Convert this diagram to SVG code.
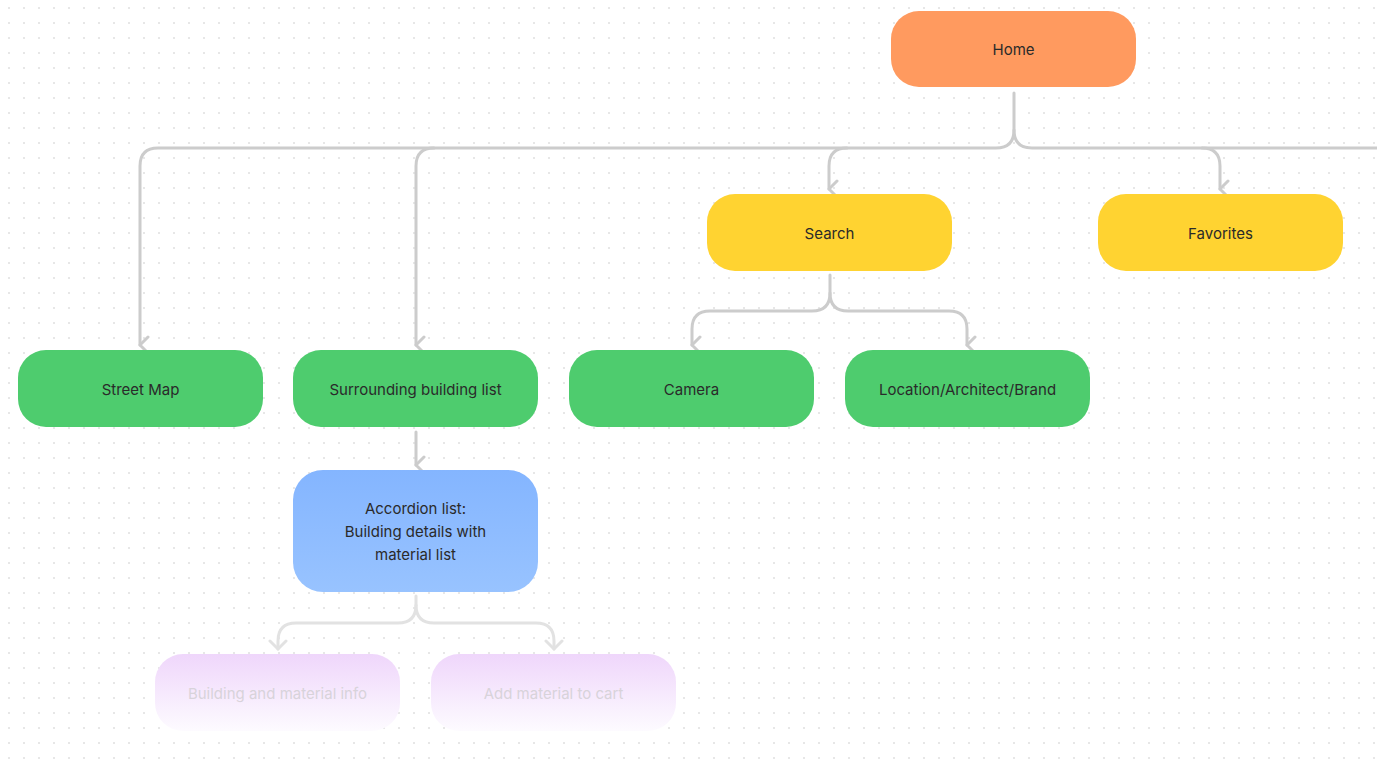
<svg xmlns="http://www.w3.org/2000/svg" width="1377" height="760" viewBox="0 0 1377 760">
<defs>
<pattern id="dots" width="15" height="15" patternUnits="userSpaceOnUse" x="8" y="7"><circle cx="1" cy="1" r="0.9" fill="#dcdcdc"/></pattern>
<linearGradient id="blue" x1="0" y1="0" x2="0" y2="1"><stop offset="0" stop-color="#84b5ff"/><stop offset="1" stop-color="#98c3ff"/></linearGradient>
<linearGradient id="purple" x1="0" y1="0" x2="0" y2="1"><stop offset="0" stop-color="#efd6fb"/><stop offset="1" stop-color="#fdfbff"/></linearGradient>
<marker id="ah" viewBox="0 0 20 20" refX="10" refY="16" markerWidth="20" markerHeight="20" markerUnits="userSpaceOnUse" orient="auto-start-reverse">
<path d="M2 8 L10 16 L18 8" fill="none" stroke="#cccccc" stroke-width="3" stroke-linecap="round" stroke-linejoin="round" transform="rotate(-90 10 10) rotate(90 10 10)"/>
</marker>
<marker id="ahf" viewBox="0 0 20 20" refX="10" refY="16" markerWidth="20" markerHeight="20" markerUnits="userSpaceOnUse">
<path d="M2 8 L10 16 L18 8" fill="none" stroke="#e2e2e2" stroke-width="3" stroke-linecap="round" stroke-linejoin="round"/>
</marker>
</defs>
<style>
text{font-family:Inter,"Liberation Sans",sans-serif;font-size:15px;fill:#2a2a2a;text-anchor:middle;dominant-baseline:central}
.c{fill:none;stroke:#cccccc;stroke-width:3;stroke-linecap:round}
.cf{fill:none;stroke:#e2e2e2;stroke-width:3;stroke-linecap:round}
.faded{fill:#d8d3da}
</style>
<rect width="1377" height="760" fill="#ffffff"/>
<rect width="1377" height="760" fill="url(#dots)"/>
<g id="connectors">
<path class="c" d="M1014 93 V130 Q1014 148 996 148 H158 Q140 148 140 166 V345" marker-end="url(#ah)"/>
<path class="c" d="M434 148 Q416 148 416 166 V345" marker-end="url(#ah)"/>
<path class="c" d="M1014 130 Q1014 148 1032 148 H1380"/>
<path class="c" d="M847 148 Q829 148 829 166 V189" marker-end="url(#ah)"/>
<path class="c" d="M1202 148 Q1220 148 1220 166 V189" marker-end="url(#ah)"/>
<path class="c" d="M830 275 V293 Q830 311 812 311 H710 Q692 311 692 329 V345" marker-end="url(#ah)"/>
<path class="c" d="M830 293 Q830 311 848 311 H949 Q967 311 967 329 V345" marker-end="url(#ah)"/>
<path class="c" d="M416 432 V465" marker-end="url(#ah)"/>
<path class="cf" d="M416 596 V605 Q416 623 398 623 H296 Q278 623 278 641 V649" marker-end="url(#ahf)"/>
<path class="cf" d="M416 605 Q416 623 434 623 H536 Q554 623 554 641 V649" marker-end="url(#ahf)"/>
</g>
<g id="home"><rect x="891" y="11" width="245" height="76" rx="28" fill="#ff9a5f"/><text x="1013.5" y="49">Home</text></g>
<g id="search"><rect x="707" y="194" width="245" height="77" rx="28" fill="#ffd331"/><text x="829.5" y="233">Search</text></g>
<g id="favorites"><rect x="1098" y="194" width="245" height="77" rx="28" fill="#ffd331"/><text x="1220.5" y="233">Favorites</text></g>
<g id="street-map"><rect x="18" y="350" width="245" height="77" rx="28" fill="#4ecc6e"/><text x="140.5" y="389">Street Map</text></g>
<g id="surrounding"><rect x="293" y="350" width="245" height="77" rx="28" fill="#4ecc6e"/><text x="415.5" y="389">Surrounding building list</text></g>
<g id="camera"><rect x="569" y="350" width="245" height="77" rx="28" fill="#4ecc6e"/><text x="691.5" y="389">Camera</text></g>
<g id="location"><rect x="845" y="350" width="245" height="77" rx="28" fill="#4ecc6e"/><text x="967.5" y="389">Location/Architect/Brand</text></g>
<g id="accordion"><rect x="293" y="470" width="245" height="122" rx="30" fill="url(#blue)"/><text x="415.5" y="508">Accordion list:</text><text x="415.5" y="531">Building details with</text><text x="415.5" y="554">material list</text></g>
<g id="building-info"><rect x="155" y="654" width="245" height="77" rx="28" fill="url(#purple)"/><text class="faded" x="277.5" y="693">Building and material info</text></g>
<g id="add-cart"><rect x="431" y="654" width="245" height="77" rx="28" fill="url(#purple)"/><text class="faded" x="553.5" y="693">Add material to cart</text></g>
</svg>
